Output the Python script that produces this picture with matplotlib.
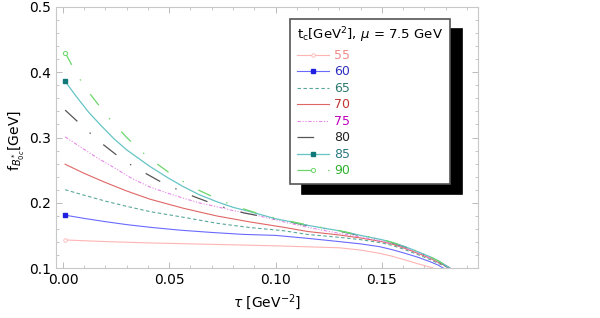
import numpy as np
import matplotlib
matplotlib.use("Agg")
import matplotlib.pyplot as plt
from matplotlib.ticker import MultipleLocator

plt.rcParams['font.family'] = ['DejaVu Sans']
plt.rcParams['lines.scale_dashes'] = False

# values (tau in GeV^-2, f in GeV)
tau_55 = [0.001, 0.02, 0.04, 0.06, 0.08, 0.10, 0.115, 0.130, 0.140, 0.149, 0.155, 0.161, 0.167, 0.1742]
f_55 = [0.143, 0.1405, 0.1385, 0.137, 0.1355, 0.134, 0.1325, 0.131, 0.1275, 0.1225, 0.118, 0.1123, 0.1065, 0.100]

tau_60 = [0.001, 0.01, 0.02, 0.03, 0.041, 0.055, 0.07, 0.085, 0.10, 0.115, 0.130, 0.140, 0.149, 0.155, 0.161, 0.167, 0.1727, 0.1765, 0.1789]
f_60 = [0.181, 0.176, 0.171, 0.1665, 0.1624, 0.158, 0.1545, 0.1515, 0.150, 0.1455, 0.1405, 0.137, 0.1327, 0.128, 0.1225, 0.1165, 0.1097, 0.1045, 0.100]

tau_65 = [0.001, 0.01, 0.02, 0.03, 0.041, 0.0566, 0.0723, 0.088, 0.1037, 0.115, 0.130, 0.140, 0.150, 0.155, 0.161, 0.167, 0.1727, 0.177, 0.182]
f_65 = [0.220, 0.2115, 0.2025, 0.1945, 0.1864, 0.1778, 0.1686, 0.162, 0.1572, 0.1515, 0.147, 0.1435, 0.1385, 0.1345, 0.128, 0.1205, 0.113, 0.1065, 0.100]

tau_70 = [0.001, 0.01, 0.02, 0.03, 0.041, 0.0566, 0.0723, 0.088, 0.1037, 0.115, 0.130, 0.140, 0.150, 0.155, 0.161, 0.167, 0.1727, 0.177, 0.182]
f_70 = [0.259, 0.245, 0.231, 0.218, 0.2054, 0.1916, 0.1798, 0.1706, 0.1625, 0.156, 0.1506, 0.146, 0.1405, 0.1365, 0.130, 0.1225, 0.115, 0.108, 0.100]

tau_75 = [0.001, 0.008, 0.016, 0.0245, 0.032, 0.041, 0.049, 0.0566, 0.064, 0.0723, 0.080, 0.088, 0.096, 0.1068, 0.115, 0.130, 0.140, 0.150, 0.155, 0.161, 0.167, 0.1727, 0.177, 0.182]
f_75 = [0.301, 0.286, 0.269, 0.253, 0.238, 0.224, 0.215, 0.207, 0.200, 0.194, 0.188, 0.183, 0.177, 0.1685, 0.1625, 0.153, 0.1475, 0.1415, 0.1375, 0.131, 0.1235, 0.116, 0.109, 0.100]

tau_80 = [0.001, 0.007, 0.013, 0.019, 0.026, 0.0323, 0.040, 0.0472, 0.0543, 0.062, 0.070, 0.077, 0.085, 0.093, 0.10, 0.107, 0.115, 0.130, 0.140, 0.150, 0.155, 0.161, 0.167, 0.1727, 0.177, 0.182]
f_80 = [0.342, 0.324, 0.306, 0.289, 0.2712, 0.2574, 0.243, 0.2299, 0.2196, 0.209, 0.1992, 0.1916, 0.1845, 0.1795, 0.175, 0.1705, 0.165, 0.1565, 0.1495, 0.143, 0.1385, 0.1322, 0.1245, 0.1168, 0.1095, 0.100]

tau_85 = [0.001, 0.006, 0.012, 0.018, 0.024, 0.030, 0.036, 0.041, 0.049, 0.0566, 0.064, 0.0723, 0.080, 0.088, 0.10, 0.107, 0.115, 0.130, 0.140, 0.150, 0.155, 0.161, 0.167, 0.1727, 0.177, 0.182]
f_85 = [0.386, 0.364, 0.339, 0.318, 0.298, 0.281, 0.267, 0.2554, 0.239, 0.2247, 0.2125, 0.2017, 0.193, 0.1864, 0.1755, 0.171, 0.1655, 0.157, 0.150, 0.1435, 0.139, 0.1327, 0.125, 0.1173, 0.110, 0.100]

tau_90 = [0.001, 0.004, 0.008, 0.012, 0.016, 0.020, 0.024, 0.030, 0.036, 0.042, 0.050, 0.0566, 0.0629, 0.070, 0.0786, 0.0864, 0.093, 0.10, 0.107, 0.115, 0.130, 0.140, 0.150, 0.155, 0.161, 0.167, 0.1727, 0.177, 0.182]
f_90 = [0.430, 0.412, 0.389, 0.370, 0.353, 0.336, 0.321, 0.300, 0.281, 0.265, 0.246, 0.2324, 0.2207, 0.210, 0.1977, 0.189, 0.1825, 0.1765, 0.1715, 0.166, 0.1572, 0.1505, 0.1438, 0.1392, 0.1328, 0.1252, 0.1175, 0.1102, 0.100]

labels = ['55', '60', '65', '70', '75', '80', '85', '90']
line_colors = ['#ffb4b4', '#6a6aff', '#5aa89a', '#e06666', '#e888e8', '#555555', '#66c4c4', '#6ad66a']
text_colors = ['#f08a8a', '#3030c0', '#2e7a70', '#c03434', '#c000c0', '#222222', '#2a7a80', '#30b030']

fig = plt.figure(figsize=(6, 3.18), dpi=100)
ax = fig.add_axes([0.0933, 0.1572, 0.7034, 0.8208])

series = [(tau_55, f_55), (tau_60, f_60), (tau_65, f_65), (tau_70, f_70),
          (tau_75, f_75), (tau_80, f_80), (tau_85, f_85), (tau_90, f_90)]
styles = [
    dict(ls='-', lw=0.8, marker='o', ms=2.5, mfc='white', mec='#ffb4b4', mew=0.6),
    dict(ls='-', lw=0.8, marker='s', ms=2.2, mfc='#2020e0', mec='#2020e0'),
    dict(ls=(0, (2.5, 1.8)), lw=0.8),
    dict(ls='-', lw=0.8),
    dict(ls=(0, (2.5, 1.2, 0.8, 1.2, 0.8, 1.2)), lw=0.8),
    dict(ls=(0, (12, 12, 1, 12)), lw=0.9),
    dict(ls='-', lw=0.9, marker='s', ms=2.2, mfc='#107878', mec='#107878'),
    dict(ls=(0, (10, 12, 1, 12)), lw=0.9, marker='o', ms=3, mfc='white', mec='#6ad66a', mew=0.7),
]

for (t, f), lab, c, st in zip(series, labels, line_colors, styles):
    ax.plot(t, f, color=c, label=lab, markevery=[0], **st)

ax.set_xlim(-0.0033, 0.1953)
ax.set_ylim(0.1, 0.5)
ax.xaxis.set_major_locator(MultipleLocator(0.05))
ax.xaxis.set_minor_locator(MultipleLocator(0.01))
ax.yaxis.set_major_locator(MultipleLocator(0.1))
ax.yaxis.set_minor_locator(MultipleLocator(0.02))
ax.xaxis.set_major_formatter(plt.FuncFormatter(lambda v, p: f'{v:.2f}'))
ax.yaxis.set_major_formatter(plt.FuncFormatter(lambda v, p: f'{v:.1f}'))
ax.tick_params(which='both', direction='in', top=True, right=True, color='#b0b0b0', labelsize=10)
ax.tick_params(which='major', length=4, width=0.6)
ax.tick_params(which='minor', length=2.2, width=0.5)
for sp in ax.spines.values():
    sp.set_color('#c8c8c8')
    sp.set_linewidth(0.8)

ax.set_xlabel(r'$\tau$ [GeV$^{-2}$]', fontsize=10, labelpad=4)
ax.set_ylabel(r'f$_{B^*_{0c}}$[GeV]', fontsize=10)
ax.yaxis.set_label_coords(-0.068, 0.49)

leg = ax.legend(title=r't$_\mathregular{c}$[GeV$^2$], $\mu$ = 7.5 GeV', loc='upper left',
                bbox_to_anchor=(0.5545, 0.954), borderaxespad=0, fontsize=9, title_fontsize=9.5,
                numpoints=1, handlelength=2.6, handletextpad=0.4, labelspacing=0.28,
                fancybox=False, edgecolor='#555555', framealpha=1, alignment='left',
                shadow={'ox': 8.6, 'oy': -7.2, 'facecolor': 'black', 'edgecolor': 'black', 'alpha': 1},
                borderpad=0.55)
leg.get_frame().set_linewidth(1.2)
for txt, c in zip(leg.get_texts(), text_colors):
    txt.set_color(c)

fig.savefig('out.png', dpi=100)
